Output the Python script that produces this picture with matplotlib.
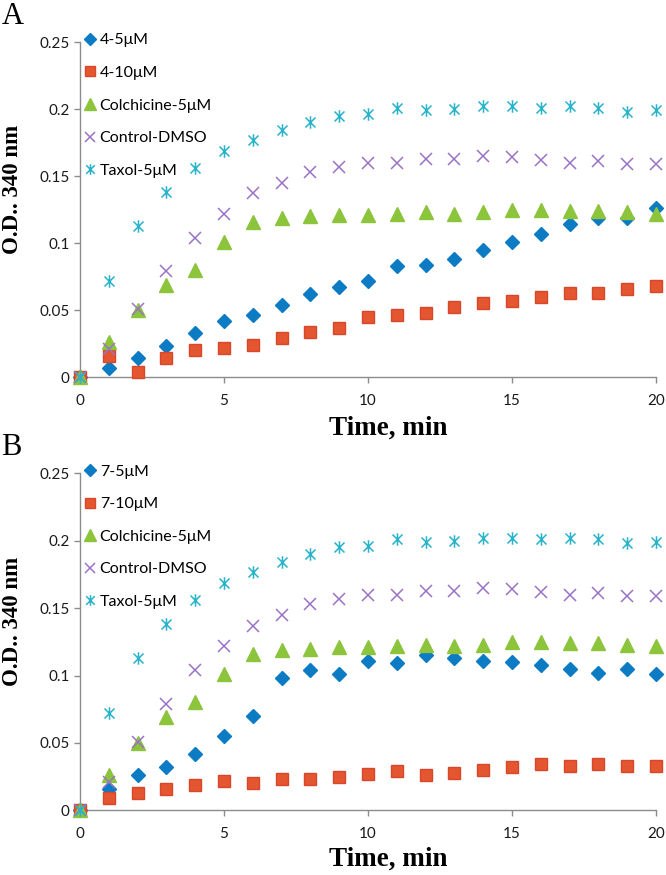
import matplotlib
matplotlib.use('Agg')
import matplotlib.pyplot as plt
from matplotlib.path import Path

# Dados (tempo em minutos)
tempo = list(range(0, 21))

taxol = [0, 0.072, 0.113, 0.138, 0.156, 0.169, 0.177, 0.184, 0.190, 0.195, 0.196,
         0.201, 0.199, 0.200, 0.202, 0.202, 0.201, 0.202, 0.201, 0.198, 0.199]
controlo = [0, 0.021, 0.051, 0.079, 0.104, 0.122, 0.137, 0.145, 0.153, 0.157, 0.160,
            0.160, 0.163, 0.163, 0.165, 0.164, 0.162, 0.160, 0.161, 0.159, 0.159]
colchicina = [0, 0.026, 0.050, 0.069, 0.080, 0.101, 0.116, 0.119, 0.120, 0.121, 0.121,
              0.122, 0.123, 0.122, 0.123, 0.125, 0.125, 0.124, 0.124, 0.123, 0.122]

# Painel A
a_5uM = [0, 0.007, 0.014, 0.023, 0.033, 0.042, 0.046, 0.054, 0.062, 0.067, 0.072,
         0.083, 0.084, 0.088, 0.095, 0.101, 0.107, 0.114, 0.119, 0.119, 0.126]
a_10uM = [0, 0.016, 0.004, 0.014, 0.020, 0.022, 0.024, 0.029, 0.034, 0.037, 0.045,
          0.046, 0.048, 0.052, 0.055, 0.057, 0.060, 0.063, 0.063, 0.066, 0.068]

# Painel B
b_5uM = [0, 0.016, 0.026, 0.032, 0.042, 0.055, 0.070, 0.098, 0.104, 0.101, 0.111,
         0.109, 0.115, 0.113, 0.111, 0.110, 0.108, 0.105, 0.102, 0.105, 0.101]
b_10uM = [0, 0.009, 0.013, 0.016, 0.019, 0.022, 0.020, 0.023, 0.023, 0.025, 0.027,
          0.029, 0.026, 0.028, 0.030, 0.032, 0.034, 0.033, 0.034, 0.033, 0.033]

yticks = [0, 0.05, 0.1, 0.15, 0.2, 0.25]
ytick_labels = ['0', '0.05', '0.1', '0.15', '0.2', '0.25']
xticks = [0, 5, 10, 15, 20]

# Marcador asterisco estilo Excel (x + linha vertical)
asterisco = Path([(-1, -1), (1, 1), (-1, 1), (1, -1), (0, -1.25), (0, 1.25)],
                 [Path.MOVETO, Path.LINETO, Path.MOVETO, Path.LINETO, Path.MOVETO, Path.LINETO])

azul = '#0b7bc4'
vermelho = '#e4562f'
verde = '#8cc43c'
roxo = '#9a72c6'
ciano = '#27b3cc'
cinza = '#8c8c8c'

fig = plt.figure(figsize=(6.66, 8.75), dpi=100)


def painel(rect, serie5, serie10, nome5, nome10, letra, letra_y, xlab_y):
    ax = fig.add_axes(rect)
    ax.plot(tempo, serie5, linestyle='none', marker='D', markersize=7.5, color=azul,
            label=nome5, clip_on=False, zorder=3)
    ax.plot(tempo, serie10, linestyle='none', marker='s', markersize=9, color=vermelho,
            markeredgecolor='#d9472a', label=nome10, clip_on=False, zorder=3)
    ax.plot(tempo, colchicina, linestyle='none', marker='^', markersize=10, color=verde,
            label='Colchicine-5μM', clip_on=False, zorder=3)
    ax.plot(tempo, controlo, linestyle='none', marker='x', markersize=8, color=roxo,
            markeredgewidth=1.1, label='Control-DMSO', clip_on=False, zorder=3)
    ax.plot(tempo, taxol, linestyle='none', marker=asterisco, markersize=9, color=ciano,
            markerfacecolor='none', markeredgewidth=1.1, label='Taxol-5μM', clip_on=False, zorder=3)

    ax.set_xlim(0, 20)
    ax.set_ylim(0, 0.25)
    ax.set_xticks(xticks)
    ax.set_yticks(yticks)
    ax.set_yticklabels(ytick_labels)
    for s in ['top', 'right']:
        ax.spines[s].set_visible(False)
    for s in ['left', 'bottom']:
        ax.spines[s].set_color(cinza)
        ax.spines[s].set_linewidth(1)
    ax.tick_params(axis='both', colors=cinza, labelcolor='#1a1a1a', labelsize=11,
                   direction='out', length=4, width=1)
    ax.tick_params(axis='x', pad=8)
    for lab in ax.get_xticklabels() + ax.get_yticklabels():
        lab.set_fontfamily('Lato')

    ax.set_xlabel('Time, min', fontfamily='Liberation Serif', fontweight='bold', fontsize=19.5,
                  va='center')
    ax.xaxis.set_label_coords(0.535, xlab_y)
    ax.set_ylabel('O.D.. 340 nm', fontfamily='Liberation Serif', fontweight='bold', fontsize=16.5,
                  va='center')
    ax.yaxis.set_label_coords(-0.117, 0.56)

    ax.legend(loc='upper left', bbox_to_anchor=(-0.01, 1.045), frameon=False,
              handletextpad=0.0, handlelength=1.2, labelspacing=1.15, markerscale=0.85,
              borderaxespad=0, prop={'family': 'Lato', 'size': 11.5})
    fig.text(0.002, letra_y, letra, fontfamily='Liberation Serif', fontsize=22,
             va='top', ha='left')
    return ax


painel([0.120, 0.569, 0.865, 0.383], a_5uM, a_10uM, '4-5μM', '4-10μM', 'A', 0.998, -0.152)
painel([0.120, 0.074, 0.865, 0.385], b_5uM, b_10uM, '7-5μM', '7-10μM', 'B', 0.505, -0.145)

plt.savefig('out.png', dpi=100)
plt.close()
